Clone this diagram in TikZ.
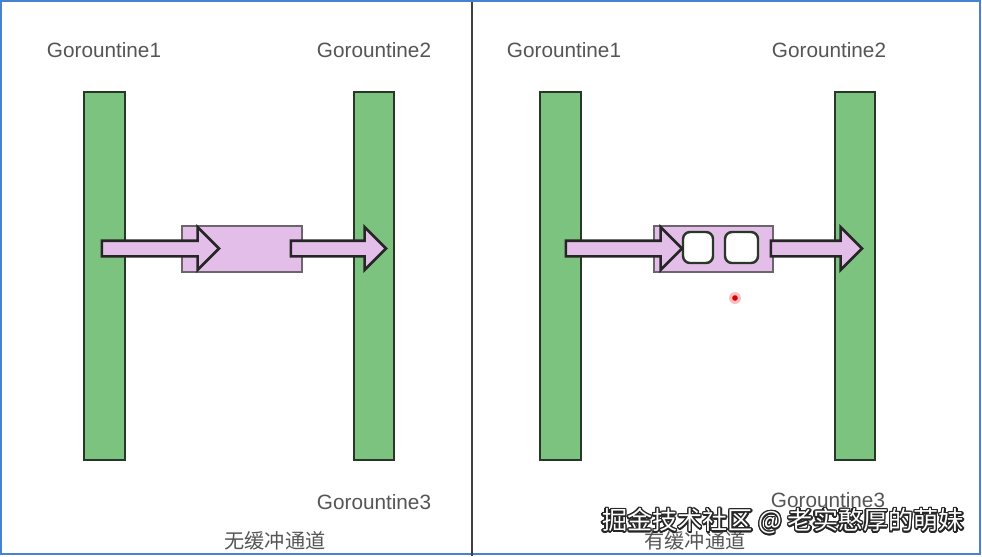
\documentclass[tikz,border=0pt]{standalone}
\usepackage{fontspec}
\setmainfont{Liberation Sans}
\newfontfamily\cjk{Noto Sans CJK SC}
\usepackage{contour}
\contourlength{0.8pt}
\usetikzlibrary{shapes.arrows}
\usetikzlibrary{positioning}

\definecolor{barfill}{RGB}{125,195,128}
\definecolor{barline}{RGB}{40,55,40}
\definecolor{chanfill}{RGB}{226,190,232}
\definecolor{chanline}{RGB}{110,100,110}
\definecolor{labgray}{RGB}{85,85,85}
\definecolor{frameblue}{RGB}{70,130,210}

\tikzset{
  bar/.style={draw=barline,line width=1.4pt,fill=barfill},
  chan/.style={draw=chanline,line width=1pt,fill=chanfill},
  slot/.style={draw=barline,line width=1.4pt,fill=white,rounded corners=0.14cm},
  flow/.style={shape=single arrow,draw=black!85,line width=1.5pt,fill=chanfill,
    inner xsep=0pt,inner ysep=0.13cm,single arrow head extend=0.27cm,
    single arrow head indent=0pt,text width=0pt},
  lab/.style={text=labgray,font=\fontsize{11.8}{12}\selectfont,inner sep=0pt},
  captext/.style={text=labgray,font=\cjk\fontsize{11.5}{12}\selectfont,inner sep=0pt}
}

\begin{document}
\begin{tikzpicture}[x=0.02cm,y=-0.02cm]

  \useasboundingbox [fill=white] (0,0) rectangle (982,556);
  \draw [frameblue,line width=1.2pt] (1,1) rectangle (980,554);
  \draw [black!75,line width=1.5pt] (472,2) -- (472,556);

  % unbuffered channel
  \node [lab] (L_g1) at (104,50) {Gorountine1};
  \node [lab] (L_g2) at (374,50) {Gorountine2};
  \node [lab] (L_g3) at (374,502) {Gorountine3};
  \node [captext] (L_cap) at (275,541) {无缓冲通道};

  \path [bar] (84,92) rectangle (125,460);
  \path [bar] (354,92) rectangle (394,460);
  \path [chan] (182,226) rectangle (302,272);

  \node [flow,minimum height=117*0.02cm] (L_in) at (156.5,248.5) {};
  \node [flow,minimum height=95*0.02cm] (L_out) at (334.5,248.5) {};

  % buffered channel
  \node [lab] (R_g1) at (564,50) {Gorountine1};
  \node [lab] (R_g2) at (829,50) {Gorountine2};
  \node [lab] (R_g3) at (828,500) {Gorountine3};
  \node [captext] (R_cap) at (695,541) {有缓冲通道};

  \path [bar] (540,92) rectangle (581,460);
  \path [bar] (835,92) rectangle (875,460);
  \path [chan] (654,226) rectangle (773,272);
  \path [slot] (683,232) rectangle (713,263);
  \path [slot] (725,232) rectangle (758,263);

  \node [flow,minimum height=116*0.02cm] (R_in) at (620,248.5) {};
  \node [flow,minimum height=91*0.02cm] (R_out) at (812.5,248.5) {};

  % pointer
  \fill [red!25] (735,298) circle (6);
  \fill [red!85!black] (735,298) circle (2.8);

  \node [text=white,font=\cjk\fontsize{14.3}{15}\selectfont,inner sep=0pt] (mark) at (783,522)
    {\contour{black!85}{掘金技术社区 @ 老实憨厚的萌妹}};

\end{tikzpicture}
\end{document}
